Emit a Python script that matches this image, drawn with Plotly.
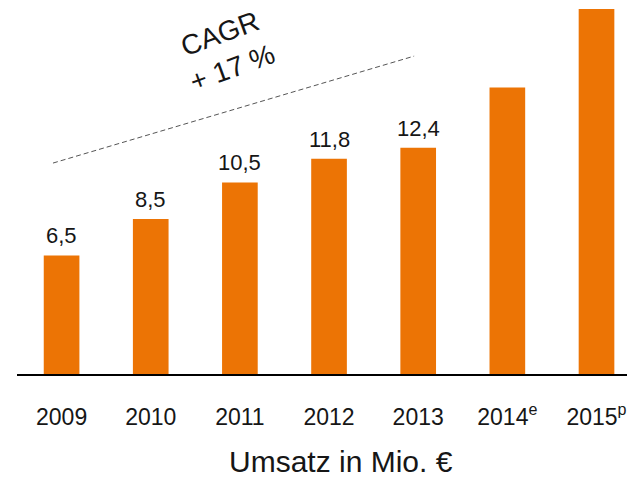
import plotly.graph_objects as go

# ---- data ----
years = ["2009", "2010", "2011", "2012", "2013", "2014<sup>e</sup>", "2015<sup>p</sup>"]
revenue = [6.5, 8.5, 10.5, 11.8, 12.4, 15.7, 20.0]
labelled = [True, True, True, True, True, False, False]
axis_title = "Umsatz in Mio. €"
cagr_text = "CAGR<br>+ 17 %"

ORANGE = "#EC7405"
FONT = "Liberation Sans, Arial, sans-serif"
TXT = "#161616"

fig = go.Figure()
fig.add_trace(go.Bar(
    x=list(range(len(years))), y=revenue, width=0.4,
    marker=dict(color=ORANGE, line=dict(width=0)),
    hoverinfo="skip",
))

annotations = []
for i, (v, show) in enumerate(zip(revenue, labelled)):
    if show:
        annotations.append(dict(
            x=i, y=v, xref="x", yref="y", text=f"{v:.1f}".replace(".", ","),
            showarrow=False, yanchor="bottom", xanchor="center", yshift=5,
            font=dict(family=FONT, size=22, color=TXT),
        ))

annotations.append(dict(
    x=0.531, y=-0.235, xref="paper", yref="paper", text=axis_title,
    showarrow=False, xanchor="center", yanchor="middle",
    font=dict(family=FONT, size=30, color=TXT),
))
annotations.append(dict(
    x=0.343, y=0.866, xref="paper", yref="paper", text=cagr_text,
    showarrow=False, xanchor="center", yanchor="middle", textangle=-20,
    align="center",
    font=dict(family=FONT, size=28, color=TXT),
))

fig.update_layout(
    width=627, height=481,
    margin=dict(l=17, r=0, t=0, b=107, pad=0),
    paper_bgcolor="white", plot_bgcolor="white",
    showlegend=False,
    annotations=annotations,
    shapes=[dict(
        type="line", xref="paper", yref="paper",
        x0=0.059, y0=0.564, x1=0.651, y1=0.850,
        line=dict(color="#555555", width=1, dash="5px,3px"),
    )],
    xaxis=dict(
        range=[-0.5, 6.342], tickmode="array",
        tickvals=list(range(len(years))), ticktext=years,
        showgrid=False, zeroline=False, showline=True,
        linecolor="black", linewidth=2, ticks="",
        ticklabelstandoff=21,
        tickfont=dict(family=FONT, size=23, color=TXT),
        fixedrange=True,
    ),
    yaxis=dict(
        range=[0, 20.5], visible=False, showgrid=False, zeroline=False,
        fixedrange=True,
    ),
)

fig.write_html(
    "out.html",
    config={"displayModeBar": False},
    post_script="document.body.style.margin='0';document.body.style.overflow='hidden';",
)
